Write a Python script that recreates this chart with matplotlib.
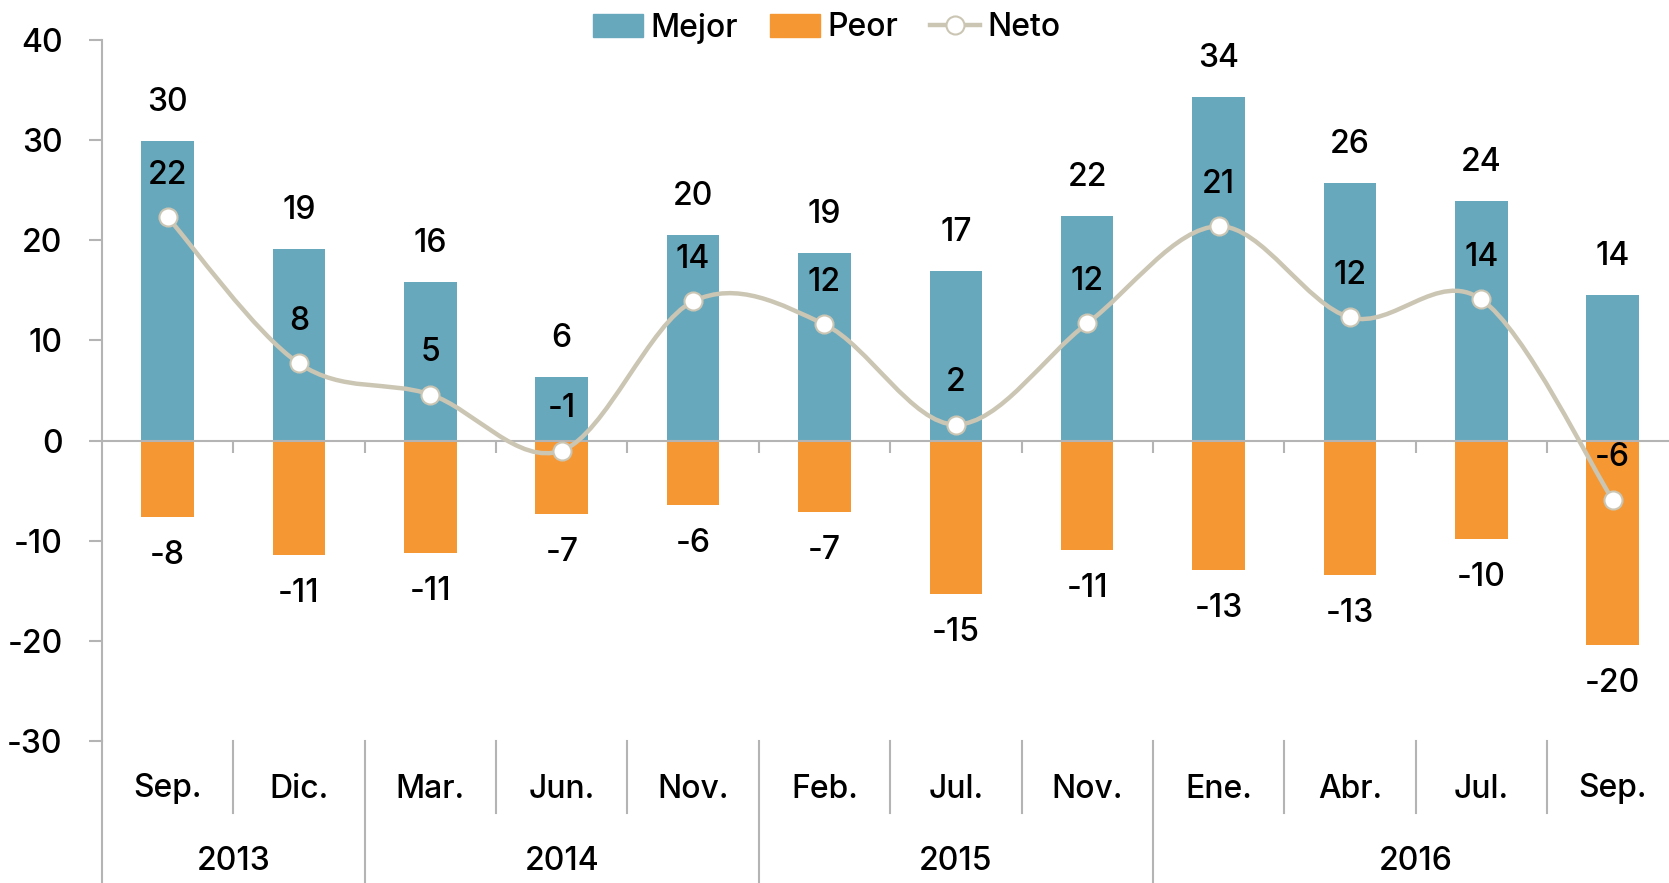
import matplotlib.pyplot as plt
import numpy as np
from matplotlib.path import Path
from matplotlib.patches import PathPatch, Patch
from matplotlib.lines import Line2D
import matplotlib.transforms as mtransforms

plt.rcParams['font.family'] = ['Inter', 'DejaVu Sans']
plt.rcParams['font.weight'] = 'medium'
plt.rcParams['axes.unicode_minus'] = False

months = ['Sep.', 'Dic.', 'Mar.', 'Jun.', 'Nov.', 'Feb.', 'Jul.', 'Nov.',
          'Ene.', 'Abr.', 'Jul.', 'Sep.']
years = ['2013', '2014', '2015', '2016']
year_sizes = [2, 3, 3, 4]

mejor = [29.9, 19.1, 15.8, 6.3, 20.5, 18.7, 16.9, 22.4, 34.3, 25.7, 23.9, 14.5]
peor = [-7.6, -11.4, -11.2, -7.3, -6.4, -7.1, -15.3, -10.9, -12.9, -13.4, -9.8, -20.4]
neto = [22.3, 7.7, 4.6, -1.0, 13.9, 11.6, 1.6, 11.7, 21.4, 12.3, 14.1, -5.9]

c_mejor = '#67a8bd'
c_peor = '#f59733'
c_neto = '#cbc5b3'
c_axis = '#b4b4b4'
fs = 23

W, H = 1669, 883
fig = plt.figure(figsize=(W / 100, H / 100), dpi=100)
# axes box in pixels: left 102, top 40, bottom 741 (y = -30)
ax = fig.add_axes([102 / W, 1 - 741 / H, 1 - 102 / W, (741 - 40) / H])

x = np.arange(len(months))
cat_w = 131.36
ax.set_xlim(-0.5, 11.5 - (102 + 12 * cat_w - W) / cat_w)
ax.set_ylim(-30, 40)

ax.bar(x, mejor, width=0.4, color=c_mejor, zorder=2)
ax.bar(x, peor, width=0.4, color=c_peor, zorder=2)

# smoothed net line (cardinal bezier through the points)
pts = np.column_stack([x, neto])
verts = [pts[0]]
codes = [Path.MOVETO]
n = len(pts)
for i in range(n - 1):
    p0 = pts[max(i - 1, 0)]
    p1 = pts[i]
    p2 = pts[i + 1]
    p3 = pts[min(i + 2, n - 1)]
    verts += [p1 + (p2 - p0) / 6, p2 - (p3 - p1) / 6, p2]
    codes += [Path.CURVE4] * 3
ax.add_patch(PathPatch(Path(verts, codes), facecolor='none', edgecolor=c_neto,
                       lw=3.2, zorder=3, capstyle='round'))
ax.plot(x, neto, ls='none', marker='o', ms=13, mfc='white', mec=c_neto,
        mew=1.5, zorder=4)

for i in range(n):
    ax.annotate(f'{mejor[i]:.0f}', (x[i], mejor[i]), xytext=(0, 28),
                textcoords='offset points', ha='center', va='center', fontsize=fs)
    ax.annotate(f'{peor[i]:.0f}', (x[i], peor[i]), xytext=(0, -28),
                textcoords='offset points', ha='center', va='center', fontsize=fs)
    ax.annotate(f'{neto[i]:.0f}', (x[i], neto[i]), xytext=(0, 30),
                textcoords='offset points', ha='center', va='center', fontsize=fs,
                zorder=5)

# spines: left axis, zero line as bottom spine
for s in ['top', 'right']:
    ax.spines[s].set_visible(False)
ax.spines['bottom'].set_position(('data', 0))
ax.spines['bottom'].set_color(c_axis)
ax.spines['left'].set_color(c_axis)
ax.spines['bottom'].set_linewidth(1.5)
ax.spines['left'].set_linewidth(1.5)
ax.spines['bottom'].set_zorder(2.5)

ax.set_yticks(range(-30, 41, 10))
ax.tick_params(axis='y', length=9.4, width=1.5, color=c_axis, pad=19, labelsize=fs)
ax.set_xticks(np.arange(0.5, 11, 1))
ax.set_xticklabels([])
ax.tick_params(axis='x', length=8.6, width=1.5, color=c_axis, direction='out')

# category axis below the plot
trans = mtransforms.blended_transform_factory(ax.transData, ax.transAxes)
ah = 741 - 40
month_bottom = -(813 - 741) / ah
axis_bottom = -(H - 741) / ah
ax.add_line(Line2D([-0.5, -0.5], [0, axis_bottom], transform=trans, color=c_axis,
                   lw=1.5, clip_on=False))
bounds = np.cumsum(year_sizes)[:-1] - 0.5
for b in np.arange(0.5, 11, 1):
    y0 = axis_bottom if b in bounds else month_bottom
    ax.add_line(Line2D([b, b], [0, y0], transform=trans, color=c_axis, lw=1.5,
                       clip_on=False))
for i, m in enumerate(months):
    ax.text(x[i], -(789 - 741) / ah, m, transform=trans, ha='center',
            va='center', fontsize=fs)
start = 0
for yr, sz in zip(years, year_sizes):
    ax.text(start + (sz - 1) / 2, -(862 - 741) / ah, yr, transform=trans,
            ha='center', va='center', fontsize=fs)
    start += sz

handles = [Patch(color=c_mejor), Patch(color=c_peor),
           Line2D([], [], color=c_neto, lw=3.2, marker='o', ms=13, mfc='white',
                  mec=c_neto, mew=1.5)]
fig.legend(handles, ['Mejor', 'Peor', 'Neto'], loc='center',
           bbox_to_anchor=(827 / W, 1 - 28 / H), ncol=3, frameon=False,
           fontsize=fs, handlelength=1.55, handleheight=0.7,
           handletextpad=0.25, columnspacing=1.0)

fig.savefig('out.png', dpi=100)
